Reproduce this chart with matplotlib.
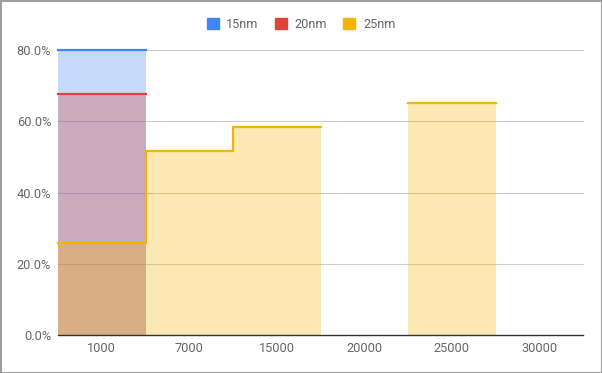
import numpy as np
import matplotlib
matplotlib.use("Agg")
import matplotlib.pyplot as plt
from matplotlib.patches import Rectangle

plt.rcParams["font.family"] = ["Roboto", "DejaVu Sans"]

categories = ["1000", "7000", "15000", "20000", "25000", "30000"]
series_names = ["15nm", "20nm", "25nm"]
s15 = [80.0, None, None, None, None, None]
s20 = [67.7, None, None, None, None, None]
s25 = [25.9, 51.6, 58.4, None, 65.0, None]
colors = ["#4285F4", "#DB4437", "#F4B400"]
yticks = [0, 20, 40, 60, 80]

fig = plt.figure(figsize=(6.02, 3.73), dpi=100)
ax = fig.add_axes([58 / 602, 38 / 373, 525 / 602, 285 / 373])


def runs(vals):
    # split the series into stretches of consecutive non-null values
    out, cur = [], []
    for i, v in enumerate(vals):
        if v is None:
            if cur:
                out.append(cur)
            cur = []
        else:
            cur.append((i, v))
    if cur:
        out.append(cur)
    return out


for name, vals, c in zip(series_names, [s15, s20, s25], colors):
    for run in runs(vals):
        xs, ys = [], []
        for i, v in run:
            xs += [i, i + 1]
            ys += [v, v]
        ax.fill_between(xs, 0, ys, color=c, alpha=0.3, linewidth=0)
        ax.plot(xs, ys, color=c, lw=1.6, solid_joinstyle="miter", clip_on=False)

ax.set_xlim(0, len(categories))
ax.set_ylim(0, 80)
ax.set_xticks(np.arange(len(categories)) + 0.5)
ax.set_xticklabels(categories)
ax.set_yticks(yticks)
ax.set_yticklabels([f"{t:.1f}%" for t in yticks])
ax.tick_params(length=0, labelsize=9.2, labelcolor="#666666", pad=5)
for t in yticks[1:]:
    ax.axhline(t, color="#cccccc", lw=0.8, zorder=0, clip_on=False)
for sp in ["top", "right", "left"]:
    ax.spines[sp].set_visible(False)
ax.spines["bottom"].set_color("#333333")
ax.spines["bottom"].set_linewidth(1)

handles = [Rectangle((0, 0), 1, 1, color=c) for c in colors]
fig.legend(handles, series_names, loc="center", bbox_to_anchor=(0.5, 1 - 24 / 373),
           ncol=3, frameon=False, fontsize=9.2, handlelength=0.94, handleheight=0.94,
           handletextpad=0.62, columnspacing=1.25, labelcolor="#666666")

fig.add_artist(Rectangle((0.5 / 602, 0.5 / 373), 1 - 1 / 602, 1 - 1 / 373,
                         transform=fig.transFigure, fill=False, ec="#9e9e9e", lw=1.5))

fig.savefig("out.png", dpi=100)
